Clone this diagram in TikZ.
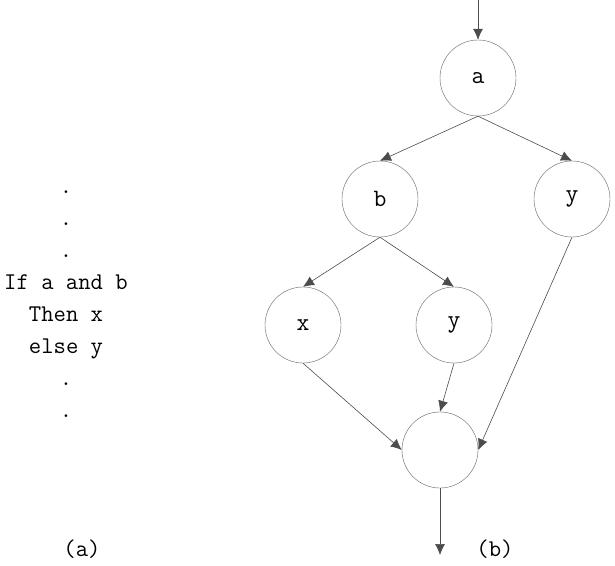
\documentclass[tikz,border=0pt]{standalone}
\usepackage{fontspec}
\usetikzlibrary{arrows.meta}

\begin{document}
\begin{tikzpicture}[x=1pt,y=-1pt,
    vertex/.style={circle,draw=black!60,fill=white,minimum size=76pt,inner sep=0pt,
                   font=\ttfamily\fontsize{25}{28}\selectfont},
    flow/.style={draw=black!70,line width=0.6pt,-{Latex[length=11pt,width=10pt]}},
    caption/.style={font=\ttfamily\fontsize{24}{28}\selectfont}]
\useasboundingbox (0,0) rectangle (615,565);

% (a) the source
\node[caption,align=center,anchor=base] (code) at (66,417)
    {.\\[4pt].\\[4pt].\\[4pt]If a and b\\[4pt]Then x\\[4pt]else y\\[4pt].\\[4pt].};
\node[caption,anchor=base] (capa) at (82,556) {(a)};

% (b) the graph
\coordinate (in) at (478,0);
\node[vertex] (a) at (478,78) {a};
\node[vertex] (b) at (380,199) {b};
\node[vertex] (y1) at (572,199) {y};
\node[vertex] (x) at (303,325) {x};
\node[vertex] (y2) at (454,325) {y};
\node[vertex] (join) at (440,450) {};
\coordinate (out) at (440,555);
\node[caption,anchor=base] (capb) at (495,556) {(b)};

\draw[flow] (in) -- (a.north);
\draw[flow] (a.south) -- (b.north);
\draw[flow] (a.south) -- (y1.north);
\draw[flow] (b.south) -- (x.north);
\draw[flow] (b.south) -- (y2.north);
\draw[flow] (x.south) -- (join.west);
\draw[flow] (y2.south) -- (join.north);
\draw[flow] (y1.south) -- (join.east);
\draw[flow] (join.south) -- (out);
\end{tikzpicture}
\end{document}
